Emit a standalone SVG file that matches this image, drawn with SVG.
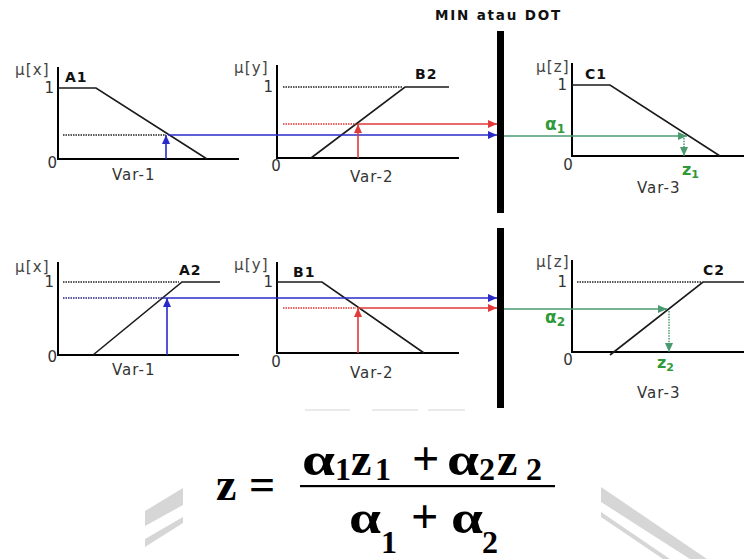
<svg xmlns="http://www.w3.org/2000/svg" width="744" height="559" viewBox="0 0 744 559">
<style>
.ax{stroke:#000;stroke-width:2;fill:none}
.mf{stroke:#1a1a1a;stroke-width:1.6;fill:none}
.dot{stroke:#222;stroke-width:1.5;stroke-dasharray:1.5 1;fill:none}
.rdot{stroke:#d33;stroke-width:1.5;stroke-dasharray:1.5 1;fill:none}
.gdot{stroke:#4a9a70;stroke-width:1.5;stroke-dasharray:1.5 1.2;fill:none}
.bl{stroke:#2a2ac8;stroke-width:1.6;fill:none}
.rd{stroke:#e03a3a;stroke-width:1.6;fill:none}
.gr{stroke:#4a9a70;stroke-width:1.6;fill:none}
.mu{font-family:"DejaVu Sans",sans-serif;font-size:15px;fill:#444;letter-spacing:1.2px}
.num{font-family:"DejaVu Sans",sans-serif;font-size:15px;fill:#333}
.var{font-family:"DejaVu Sans",sans-serif;font-size:15px;fill:#333;letter-spacing:1px}
.lab{font-family:"DejaVu Sans",sans-serif;font-size:14px;font-weight:bold;fill:#111;letter-spacing:1px}
.gl{font-family:"DejaVu Sans",sans-serif;font-weight:bold;fill:#2f9a3a}
.fx{font-family:"Liberation Serif",serif;font-weight:bold;fill:#000}
.wm{fill:#d6d6d6}
</style>
<defs>
<marker id="ab" markerUnits="userSpaceOnUse" markerWidth="9" markerHeight="8" refX="9" refY="4" orient="auto"><path d="M0,0 L9,4 L0,8 z" fill="#2a2ac8"/></marker>
<marker id="ar" markerUnits="userSpaceOnUse" markerWidth="9" markerHeight="8" refX="9" refY="4" orient="auto"><path d="M0,0 L9,4 L0,8 z" fill="#e03a3a"/></marker>
<marker id="ag" markerUnits="userSpaceOnUse" markerWidth="9" markerHeight="8" refX="9" refY="4" orient="auto"><path d="M0,0 L9,4 L0,8 z" fill="#4a9a70"/></marker>
</defs>
<rect width="744" height="559" fill="#fff"/>

<!-- watermark remnants -->
<g id="watermark">
<polygon class="wm" points="145,511 183,488 183,505 145,526"/>
<polygon class="wm" points="145,539 183,517 183,523 145,547"/>
<polygon class="wm" points="601,487 707,559 690,559 601,502"/>
<polygon class="wm" points="601,512 670,559 663,559 601,517"/>
<path d="M305,410 H350 M372,410 H418 M428,410 H465" stroke="#e4e4e4" stroke-width="1.5"/>
</g>

<text x="435" y="20" font-family="DejaVu Sans, sans-serif" font-size="13.5" font-weight="bold" fill="#111" letter-spacing="1.8">MIN atau DOT</text>

<g id="bar-top"><rect x="497" y="31" width="7" height="182" fill="#000"/></g>
<g id="bar-bottom"><rect x="497" y="228" width="7" height="180" fill="#000"/></g>

<!-- Panel A1 -->
<g id="panel-A1">
<path class="ax" d="M58,67 V159 H239"/>
<path class="mf" d="M58,88 H96 L207,159"/>
<path class="dot" d="M63,135 H166"/>
<text class="mu" x="15" y="75">μ[x]</text>
<text class="lab" x="65" y="82">A1</text>
<text class="num" x="54" y="93" text-anchor="end">1</text>
<text class="num" x="57" y="168" text-anchor="end">0</text>
<text class="var" x="112" y="180">Var-1</text>
</g>

<!-- Panel B2 -->
<g id="panel-B2">
<path class="ax" d="M277,65 V158 H459"/>
<path class="mf" d="M311,158 L405,87 H449"/>
<path class="dot" d="M283,87 H403"/>
<path class="rdot" d="M283,124 H356"/>
<text class="mu" x="234" y="73">μ[y]</text>
<text class="lab" x="415" y="79">B2</text>
<text class="num" x="273" y="92" text-anchor="end">1</text>
<text class="num" x="276" y="171" text-anchor="middle">0</text>
<text class="var" x="350" y="182">Var-2</text>
</g>

<!-- Panel C1 -->
<g id="panel-C1">
<path class="ax" d="M572,63 V156 H744"/>
<path class="mf" d="M572,85 H610 L720,156"/>
<text class="mu" x="536" y="72" letter-spacing="0.3">μ[z]</text>
<text class="lab" x="585" y="79">C1</text>
<text class="num" x="567" y="90" text-anchor="end">1</text>
<text class="num" x="568" y="170" text-anchor="middle">0</text>
<text class="gl" x="545" y="130" font-size="17">α<tspan font-size="12" dy="3">1</tspan></text>
<text class="gl" x="682" y="175" font-size="16">z<tspan font-size="11" dy="3">1</tspan></text>
<text class="var" x="637" y="193">Var-3</text>
</g>

<!-- Panel A2 -->
<g id="panel-A2">
<path class="ax" d="M58,262 V355 H239"/>
<path class="mf" d="M93,355 L182,282 H220"/>
<path class="dot" d="M63,282 H179"/>
<path class="dot" d="M63,298 H162" style="stroke:#22227a"/>
<text class="mu" x="15" y="272">μ[x]</text>
<text class="lab" x="179" y="275">A2</text>
<text class="num" x="54" y="287" text-anchor="end">1</text>
<text class="num" x="57" y="362" text-anchor="end">0</text>
<text class="var" x="112" y="375">Var-1</text>
</g>

<!-- Panel B1 -->
<g id="panel-B1">
<path class="ax" d="M277,262 V353 H459"/>
<path class="mf" d="M277,282 H322 L424,353"/>
<path class="rdot" d="M283,308 H356"/>
<text class="mu" x="234" y="270">μ[y]</text>
<text class="lab" x="293" y="277">B1</text>
<text class="num" x="273" y="287" text-anchor="end">1</text>
<text class="num" x="276" y="367" text-anchor="middle">0</text>
<text class="var" x="350" y="378">Var-2</text>
</g>

<!-- Panel C2 -->
<g id="panel-C2">
<path class="ax" d="M572,260 V352 H744"/>
<path class="mf" d="M610,355 L703,282 H744"/>
<path class="dot" d="M577,282 H701"/>
<text class="mu" x="536" y="267" letter-spacing="0.3">μ[z]</text>
<text class="lab" x="703" y="275">C2</text>
<text class="num" x="567" y="287" text-anchor="end">1</text>
<text class="num" x="568" y="365" text-anchor="middle">0</text>
<text class="gl" x="545" y="323" font-size="17">α<tspan font-size="12" dy="3">2</tspan></text>
<text class="gl" x="657" y="368" font-size="16">z<tspan font-size="11" dy="3">2</tspan></text>
<text class="var" x="637" y="398">Var-3</text>
</g>

<!-- connectors -->
<g id="connectors">
<path class="bl" d="M166,159 V135" marker-end="url(#ab)"/>
<path class="bl" d="M168,135 H497" marker-end="url(#ab)"/>
<path class="rd" d="M358,158 V124" marker-end="url(#ar)"/>
<path class="rd" d="M358,124 H497" marker-end="url(#ar)"/>
<path class="gr" d="M504,136 H687" marker-end="url(#ag)"/>
<path class="gdot" d="M684,138 V156" marker-end="url(#ag)"/>

<path class="bl" d="M167,355 V298" marker-end="url(#ab)"/>
<path class="bl" d="M163,298 H497" marker-end="url(#ab)"/>
<path class="rd" d="M358,353 V308" marker-end="url(#ar)"/>
<path class="rd" d="M358,308 H497" marker-end="url(#ar)"/>
<path class="gr" d="M504,309 H667" marker-end="url(#ag)"/>
<path class="gdot" d="M669,311 V352" marker-end="url(#ag)"/>
</g>

<!-- formula -->
<g id="formula">
<text class="fx" x="216" y="500" font-size="46">z</text>
<text class="fx" x="249" y="500" font-size="46">=</text>
<rect x="300" y="485" width="255" height="2.2" fill="#000"/>
<text class="fx" x="302" y="475" font-size="46" textLength="33" lengthAdjust="spacingAndGlyphs">α</text>
<text class="fx" x="335" y="480" font-size="32">1</text>
<text class="fx" x="351" y="475" font-size="46">z</text>
<text class="fx" x="375" y="480" font-size="32">1</text>
<text class="fx" x="412" y="475" font-size="48">+</text>
<text class="fx" x="447" y="475" font-size="46" textLength="32" lengthAdjust="spacingAndGlyphs">α</text>
<text class="fx" x="479" y="480" font-size="32">2</text>
<text class="fx" x="497" y="475" font-size="46">z</text>
<text class="fx" x="526" y="480" font-size="32">2</text>
<text class="fx" x="349" y="533" font-size="46" textLength="32" lengthAdjust="spacingAndGlyphs">α</text>
<text class="fx" x="381" y="553" font-size="32">1</text>
<text class="fx" x="411" y="533" font-size="48">+</text>
<text class="fx" x="451" y="533" font-size="46" textLength="32" lengthAdjust="spacingAndGlyphs">α</text>
<text class="fx" x="482" y="553" font-size="32">2</text>
</g>
</svg>
